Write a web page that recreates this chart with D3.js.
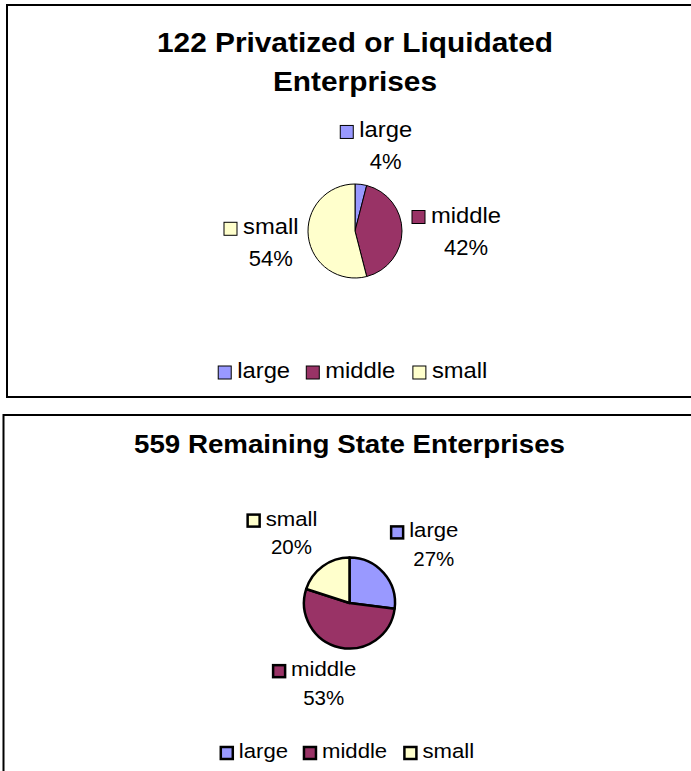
<!DOCTYPE html>
<html>
<head>
<meta charset="utf-8">
<script src="https://cdn.jsdelivr.net/npm/d3@7"></script>
<style>
    body { margin: 0; background: #fff; }
    svg { display: block; }
    text { font-family: "Liberation Sans", Arial, sans-serif; fill: #000; }
</style>
</head>
<body>
<svg id="chart" width="691" height="771"></svg>
<script>
var categories = ["large", "middle", "small"]
var privatizedValues = [4, 42, 54]
var remainingValues = [27, 53, 20]
var privatizedTitle = ["122 Privatized or Liquidated", "Enterprises"]
var remainingTitle = ["559 Remaining State Enterprises"]
var sliceColors = ["#9999ff", "#993366", "#ffffcc"]

var svg = d3.select("#chart")
var color = d3.scaleOrdinal().domain(categories).range(sliceColors)

// the original text is a bit wider than Arial at the same height
function stretch(sel, k) {
    sel.each(function () {
        var w = this.getComputedTextLength()
        d3.select(this).attr("textLength", w * k).attr("lengthAdjust", "spacingAndGlyphs")
    })
}

function drawPanel(o) {
    var g = svg.append("g")

    g.append("rect")
        .attr("x", o.frame[0]).attr("y", o.frame[1])
        .attr("width", o.frame[2]).attr("height", o.frame[3])
        .attr("fill", "#fff").attr("stroke", "#000").attr("stroke-width", 2)

    // title
    g.selectAll(".title")
        .data(o.title)
        .enter().append("text")
        .attr("class", "title")
        .attr("x", o.cx)
        .attr("y", function (d, i) { return o.titleY[i] })
        .attr("text-anchor", "middle")
        .attr("font-weight", "bold")
        .attr("font-size", o.titleSize)
        .text(function (d) { return d })
        .call(stretch, 1.065)

    var total = d3.sum(o.values)
    var arcs = d3.pie().sort(null)(o.values)
    var arc = d3.arc().innerRadius(0).outerRadius(o.r)

    var pie = g.append("g").attr("transform", "translate(" + o.cx + "," + o.cy + ")")

    pie.selectAll("path")
        .data(arcs)
        .enter().append("path")
        .attr("d", arc)
        .attr("fill", function (d, i) { return color(categories[i]) })
        .attr("stroke", "#000")
        .attr("stroke-width", o.stroke)
        .attr("stroke-linejoin", "round")

    // data labels, pushed outside the pie along the middle angle
    var sideX = function (t) { return (t < 0 ? -1 : 1) * Math.pow(Math.min(1, Math.abs(t) / 0.6), 0.6) }
    var sideY = function (t) { return (t < 0 ? -1 : 1) * Math.min(1, 1.3 * Math.abs(t)) }

    arcs.forEach(function (d, i) {
        var lg = pie.append("g")
        var t1 = lg.append("text")
            .attr("text-anchor", "middle")
            .attr("font-size", o.fontSize)
            .text(categories[i])
            .call(stretch, 1.08)
        var b1 = t1.node().getBBox()
        lg.append("rect")
            .attr("x", b1.x - o.keyGap - o.key)
            .attr("y", -o.key + 1)
            .attr("width", o.key).attr("height", o.key)
            .attr("fill", color(categories[i]))
            .attr("stroke", "#000").attr("stroke-width", o.keyStroke)
        lg.append("text")
            .attr("text-anchor", "middle")
            .attr("y", o.lineH)
            .attr("font-size", o.fontSize)
            .text(Math.round(d.value / total * 100) + "%")

        var bb = lg.node().getBBox()
        var a = (d.startAngle + d.endAngle) / 2
        var R = o.r + 10
        var tx = R * Math.sin(a) + bb.width / 2 * sideX(Math.sin(a))
        var ty = -R * Math.cos(a) + bb.height / 2 * sideY(-Math.cos(a))
        lg.attr("transform", "translate(" + (tx - bb.x - bb.width / 2) + "," + (ty - bb.y - bb.height / 2) + ")")
    })

    // legend at the bottom
    var leg = g.append("g")
    var xpos = 0
    categories.forEach(function (c) {
        leg.append("rect")
            .attr("x", xpos).attr("y", -o.key + 1)
            .attr("width", o.key).attr("height", o.key)
            .attr("fill", color(c))
            .attr("stroke", "#000").attr("stroke-width", o.keyStroke)
        var t = leg.append("text")
            .attr("x", xpos + o.key + o.keyGap)
            .attr("font-size", o.fontSize)
            .text(c)
            .call(stretch, 1.08)
        xpos += o.key + o.keyGap + t.node().getComputedTextLength() * 1.08 + 12
    })
    xpos -= 12
    leg.attr("transform", "translate(" + (o.cx - xpos / 2) + "," + o.legendY + ")")
}

drawPanel({
    frame: [7, 5, 696, 392],
    title: privatizedTitle,
    titleY: [52, 91],
    titleSize: 28,
    values: privatizedValues,
    cx: 355, cy: 231, r: 47,
    stroke: 1,
    fontSize: 22, lineH: 32,
    key: 13, keyGap: 6, keyStroke: 1,
    legendY: 378
})

drawPanel({
    frame: [3.5, 415, 692, 365],
    title: remainingTitle,
    titleY: [453],
    titleSize: 26,
    values: remainingValues,
    cx: 349.5, cy: 603, r: 45.5,
    stroke: 2.5,
    fontSize: 20.5, lineH: 28.5,
    key: 12, keyGap: 6, keyStroke: 2.5,
    legendY: 758
})
</script>
</body>
</html>
